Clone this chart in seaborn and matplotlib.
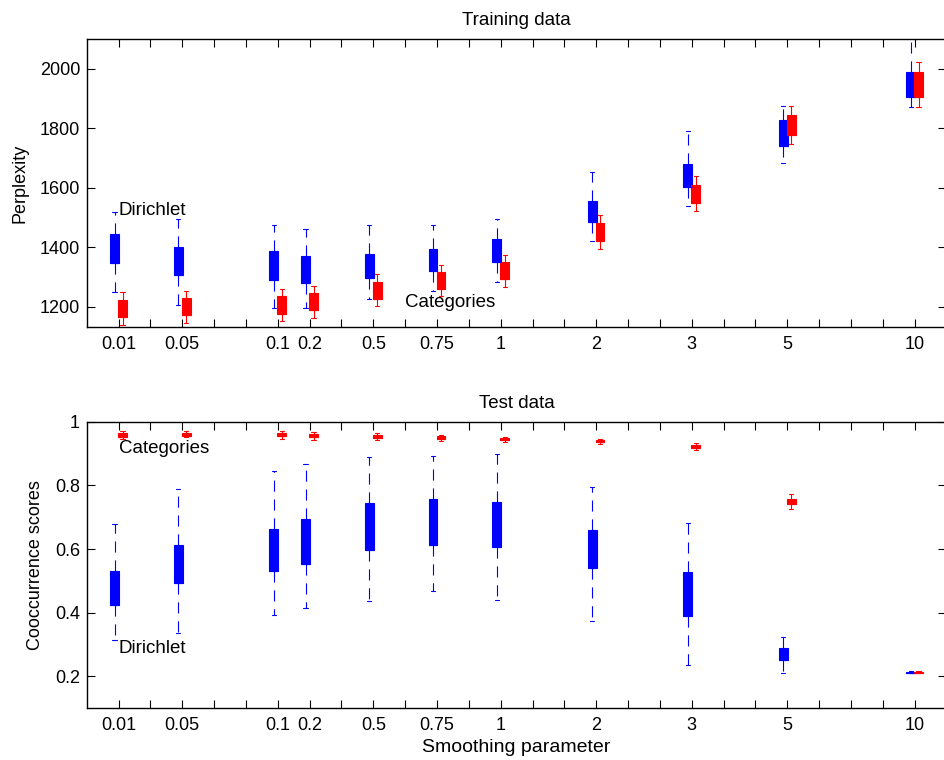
import numpy as np
import pandas as pd
import matplotlib
matplotlib.use("Agg")
import matplotlib.pyplot as plt
import seaborn as sns

# ---------------- data ----------------
params = ["0.01", "0.05", "0.1", "0.2", "0.5", "0.75", "1", "2", "3", "5", "10"]
slots = [1, 3, 6, 7, 9, 11, 13, 16, 19, 22, 26]   # layout slot of each parameter

# Training data (perplexity): lower whisker, Q1, Q3, upper whisker
train_dir_lo = [1250, 1205, 1195, 1195, 1225, 1253, 1283, 1421, 1537, 1683, 1871]
train_dir_q1 = [1346, 1307, 1290, 1279, 1296, 1318, 1350, 1486, 1604, 1742, 1904]
train_dir_q3 = [1445, 1402, 1387, 1369, 1377, 1395, 1426, 1557, 1681, 1829, 1989]
train_dir_hi = [1520, 1495, 1475, 1462, 1475, 1475, 1495, 1653, 1790, 1876, 2140]

train_cat_lo = [1138, 1144, 1150, 1162, 1202, 1234, 1265, 1394, 1522, 1746, 1871]
train_cat_q1 = [1164, 1170, 1175, 1187, 1227, 1260, 1293, 1421, 1550, 1778, 1904]
train_cat_q3 = [1223, 1228, 1234, 1245, 1284, 1316, 1350, 1481, 1610, 1844, 1989]
train_cat_hi = [1249, 1253, 1259, 1270, 1309, 1340, 1374, 1507, 1640, 1876, 2022]

# Test data (cooccurrence scores)
test_dir_lo = [0.313, 0.338, 0.392, 0.415, 0.437, 0.467, 0.440, 0.375, 0.237, 0.211, 0.211]
test_dir_q1 = [0.424, 0.494, 0.532, 0.554, 0.596, 0.612, 0.607, 0.540, 0.390, 0.252, 0.212]
test_dir_q3 = [0.531, 0.613, 0.664, 0.693, 0.744, 0.756, 0.748, 0.659, 0.529, 0.290, 0.215]
test_dir_hi = [0.680, 0.790, 0.846, 0.866, 0.888, 0.891, 0.898, 0.796, 0.682, 0.325, 0.217]

test_cat_lo = [0.945, 0.951, 0.946, 0.943, 0.941, 0.939, 0.937, 0.929, 0.912, 0.727, 0.211]
test_cat_q1 = [0.953, 0.955, 0.955, 0.951, 0.950, 0.946, 0.943, 0.935, 0.917, 0.741, 0.212]
test_cat_q3 = [0.965, 0.966, 0.966, 0.962, 0.959, 0.954, 0.950, 0.944, 0.928, 0.756, 0.215]
test_cat_hi = [0.972, 0.972, 0.970, 0.967, 0.964, 0.959, 0.953, 0.947, 0.934, 0.774, 0.217]

train_yticks = [1200, 1400, 1600, 1800, 2000]
test_yticks = [0.2, 0.4, 0.6, 0.8, 1.0]
test_yticklabels = ["0.2", "0.4", "0.6", "0.8", "1"]

# ---------------- style ----------------
sns.set_style("ticks", {"xtick.direction": "in", "ytick.direction": "in"})
plt.rcParams["font.family"] = ["Liberation Sans", "DejaVu Sans"]
plt.rcParams["axes.linewidth"] = 1.0
plt.rcParams["text.color"] = "black"
plt.rcParams["axes.labelcolor"] = "black"

BLUE = "#0000ff"
RED = "#ff0000"
OFFSET = 0.125
BOXW = 0.27
TICK_FS = 13
LABEL_FS = 13.5
NOTE_FS = 13.5


def make_frame(lo, q1, q3, hi, shift):
    rows = []
    for s, a, b, c, d in zip(slots, lo, q1, q3, hi):
        # five values -> whiskers at min/max, quartiles at b and c
        for v in (a, b, b, c, d):
            rows.append({"pos": s + shift, "value": v})
    return pd.DataFrame(rows)


def draw(ax, lo, q1, q3, hi, shift, col):
    df = make_frame(lo, q1, q3, hi, shift)
    sns.boxplot(data=df, x="pos", y="value", native_scale=True, width=BOXW,
                whis=(0, 100), color=col, linecolor=col, linewidth=0.8,
                saturation=1, showfliers=False,
                whiskerprops=dict(linestyle=(0, (10, 7))),
                medianprops=dict(color=col), ax=ax)


fig = plt.figure(figsize=(9.45, 7.6), dpi=100)
W, H = 945.0, 760.0
left, right = 86.7, 946.5
ax1 = fig.add_axes([left / W, 1 - 327.3 / H, (right - left) / W, (327.3 - 39.3) / H])
ax2 = fig.add_axes([left / W, 1 - 708.3 / H, (right - left) / W, (708.3 - 421.7) / H])

draw(ax1, train_dir_lo, train_dir_q1, train_dir_q3, train_dir_hi, -OFFSET, BLUE)
draw(ax1, train_cat_lo, train_cat_q1, train_cat_q3, train_cat_hi, +OFFSET, RED)
draw(ax2, test_dir_lo, test_dir_q1, test_dir_q3, test_dir_hi, -OFFSET, BLUE)
draw(ax2, test_cat_lo, test_cat_q1, test_cat_q3, test_cat_hi, +OFFSET, RED)

all_ticks = list(range(1, 27))
tick_labels = ["" for _ in all_ticks]
for s, p in zip(slots, params):
    tick_labels[s - 1] = p

for ax in (ax1, ax2):
    ax.set_xlim(0, 27)
    ax.set_xticks(all_ticks)
    ax.set_xticklabels(tick_labels, fontsize=TICK_FS)
    ax.tick_params(axis="both", which="major", direction="in", length=5.5,
                   width=0.8, top=True, right=True, labelsize=TICK_FS, colors="black")
    ax.tick_params(axis="x", pad=6.5)
    ax.tick_params(axis="y", pad=4.8)
    for sp in ax.spines.values():
        sp.set_visible(True)
        sp.set_color("black")
        sp.set_linewidth(1.0)
    ax.set_facecolor("white")

ax1.set_ylim(1130, 2100)
ax1.set_yticks(train_yticks)
ax1.set_yticklabels([str(v) for v in train_yticks])
ax1.set_title("Training data", fontsize=LABEL_FS, pad=10, color="black")
ax1.set_ylabel("Perplexity", fontsize=13, labelpad=8)
ax1.set_xlabel("")
ax1.text(1.0, 1525, "Dirichlet", fontsize=NOTE_FS, ha="left", va="center", color="black")
ax1.text(10.0, 1215, "Categories", fontsize=NOTE_FS, ha="left", va="center", color="black")

ax2.set_ylim(0.1, 1.0)
ax2.set_yticks(test_yticks)
ax2.set_yticklabels(test_yticklabels)
ax2.set_title("Test data", fontsize=LABEL_FS, pad=10, color="black")
ax2.set_ylabel("Cooccurrence scores", fontsize=13, labelpad=8)
ax2.set_xlabel("Smoothing parameter", fontsize=14, labelpad=3.5)
ax2.text(1.0, 0.917, "Categories", fontsize=NOTE_FS, ha="left", va="center", color="black")
ax2.text(1.0, 0.289, "Dirichlet", fontsize=NOTE_FS, ha="left", va="center", color="black")

fig.savefig("out.png", dpi=100, facecolor="white")
